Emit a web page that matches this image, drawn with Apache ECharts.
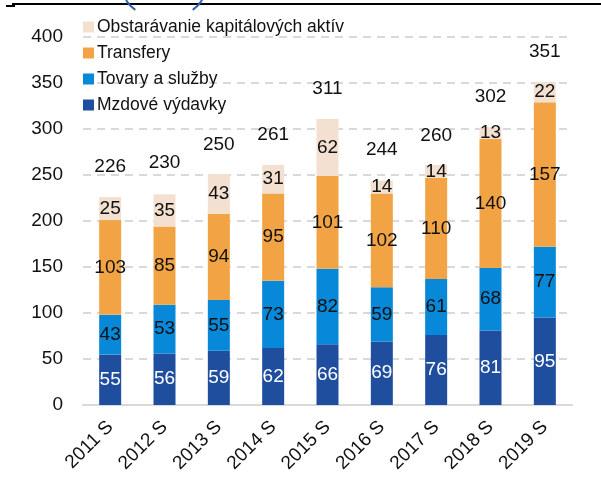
<!DOCTYPE html>
<html>
<head>
<meta charset="utf-8">
<script src="https://cdn.jsdelivr.net/npm/echarts@6/dist/echarts.min.js"></script>
<style>
    html, body { margin: 0; padding: 0; background: #fff; }
    #chart { width: 601px; height: 482px; }
</style>
</head>
<body>
<div id="chart"></div>
<script>
    // categories and series values
    const years = ['2011 S', '2012 S', '2013 S', '2014 S', '2015 S', '2016 S', '2017 S', '2018 S', '2019 S'];
    const mzdove = [55, 56, 59, 62, 66, 69, 76, 81, 95];
    const tovary = [43, 53, 55, 73, 82, 59, 61, 68, 77];
    const transfery = [103, 85, 94, 95, 101, 102, 110, 140, 157];
    const obstaravanie = [25, 35, 43, 31, 62, 14, 14, 13, 22];
    const totals = [226, 230, 250, 261, 311, 244, 260, 302, 351];

    const font = 'Liberation Sans, Arial, sans-serif';

    function segment(name, data, color, labelColor) {
        return {
            name: name,
            type: 'bar',
            stack: 'total',
            barWidth: 22,
            data: data,
            itemStyle: {color: color},
            label: {
                show: true,
                position: 'inside',
                color: labelColor,
                fontFamily: font,
                fontSize: 19
            }
        }
    }

    let chart = echarts.init(document.getElementById('chart'));
    chart.setOption({
        backgroundColor: '#fff',
        animation: false,
        grid: {left: 83, right: 29, top: 37, bottom: 77},
        legend: {
            orient: 'vertical',
            left: 78,
            top: 13,
            itemWidth: 11,
            itemHeight: 11,
            itemGap: 8,
            icon: 'rect',
            data: ['Obstarávanie kapitálových aktív', 'Transfery', 'Tovary a služby', 'Mzdové výdavky'],
            textStyle: {fontFamily: font, fontSize: 17.5, color: '#111', padding: [0, 0, 0, -2]}
        },
        xAxis: {
            type: 'category',
            data: years,
            axisLine: {lineStyle: {color: '#d9d9d9', width: 2}},
            axisTick: {show: false},
            axisLabel: {rotate: 45, fontFamily: font, fontSize: 19, color: '#111', margin: 19}
        },
        yAxis: {
            type: 'value',
            min: 0,
            max: 400,
            interval: 50,
            axisLine: {show: false},
            axisTick: {show: false},
            axisLabel: {fontFamily: font, fontSize: 19, color: '#111', margin: 20},
            splitLine: {lineStyle: {color: '#d9d9d9', type: [8, 6], width: 2}}
        },
        series: [
            segment('Mzdové výdavky', mzdove, '#1f4e9e', '#fff'),
            segment('Tovary a služby', tovary, '#0788d9', '#111'),
            segment('Transfery', transfery, '#f2a444', '#111'),
            segment('Obstarávanie kapitálových aktív', obstaravanie, '#f3e0d0', '#111'),
            {
                name: 'Spolu',
                type: 'line',
                data: totals,
                symbolSize: 0,
                lineStyle: {opacity: 0},
                label: {
                    show: true,
                    position: 'top',
                    distance: 21,
                    color: '#111',
                    fontFamily: font,
                    fontSize: 19
                }
            }
        ],
        graphic: [
            {type: 'line', shape: {x1: 12, y1: 4, x2: 601, y2: 4}, style: {stroke: '#000', lineWidth: 2}},
            {type: 'line', shape: {x1: 6, y1: 6, x2: 15, y2: 6}, style: {stroke: '#000', lineWidth: 2}},
            {type: 'arc', shape: {cx: 152, cy: -15, r: 30, startAngle: 2.16, endAngle: 2.62}, style: {stroke: '#2f5fb3', lineWidth: 2, fill: null}},
            {type: 'arc', shape: {cx: 176, cy: -15, r: 30, startAngle: 0.52, endAngle: 0.98}, style: {stroke: '#2f5fb3', lineWidth: 2, fill: null}}
        ]
    });
</script>
</body>
</html>
